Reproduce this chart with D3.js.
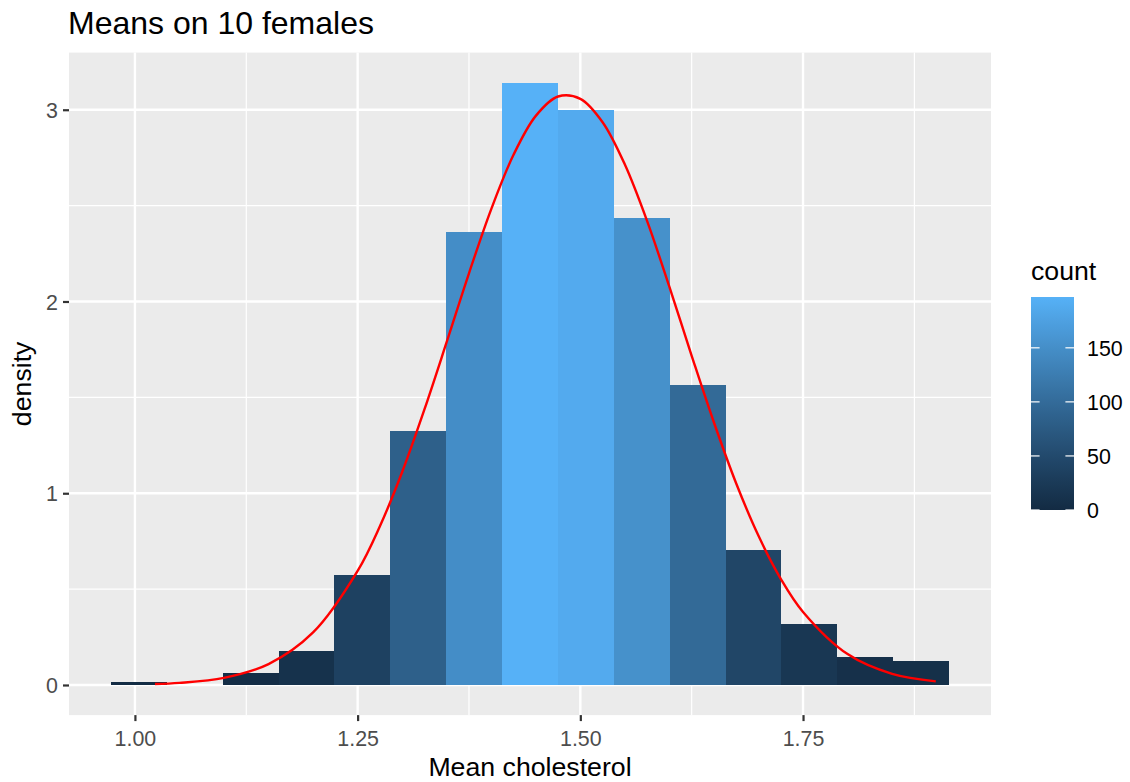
<!DOCTYPE html>
<html>
<head>
<meta charset="utf-8">
<script src="https://cdn.jsdelivr.net/npm/d3@7"></script>
<style>
  html, body { margin: 0; padding: 0; background: #ffffff; }
  svg { display: block; font-family: "Liberation Sans", Arial, Helvetica, sans-serif; }
</style>
</head>
<body>
<svg id="chart" width="1130" height="782"></svg>
<script>
// ---- data ----
const titleText = "Means on 10 females";
const xTitle = "Mean cholesterol";
const yTitle = "density";
const legendTitle = "count";

const binEdges = [0.9731, 1.0358, 1.0985, 1.1612, 1.2239, 1.2867, 1.3494, 1.4121,
                  1.4748, 1.5375, 1.6003, 1.6630, 1.7257, 1.7884, 1.8511, 1.9139];
const binCounts = [1, 0, 4, 11, 36, 83, 148, 197, 188, 153, 98, 44, 20, 9, 8];
const totalCount = 1000;

const curveX = [1.0225, 1.05, 1.10, 1.15, 1.20, 1.25, 1.275, 1.30, 1.325, 1.35, 1.375, 1.40, 1.425,
                1.45, 1.475, 1.50, 1.525, 1.55, 1.575, 1.60, 1.625, 1.65, 1.675, 1.70, 1.725,
                1.75, 1.80, 1.85, 1.899];
const curveY = [0.0053, 0.0110, 0.0373, 0.109, 0.274, 0.595, 0.828, 1.111, 1.437, 1.789, 2.147, 2.482, 2.765,
                2.968, 3.069, 3.057, 2.935, 2.714, 2.419, 2.076, 1.717, 1.369, 1.051, 0.778, 0.554,
                0.381, 0.161, 0.058, 0.019];

const xTicks = [1.00, 1.25, 1.50, 1.75];
const xMinor = [1.125, 1.375, 1.625, 1.875];
const yTicks = [0, 1, 2, 3];
const yMinor = [0.5, 1.5, 2.5];
const legendTicks = [0, 50, 100, 150];
const countLimits = [0, 197];

// ---- layout ----
const svg = d3.select("#chart");
const panel = { left: 69, right: 991, top: 52.6, bottom: 715.1 };

const x = d3.scaleLinear().domain([0.926, 1.961]).range([panel.left, panel.right]);
const y = d3.scaleLinear().domain([-0.157, 3.298]).range([panel.bottom, panel.top]);
const color = d3.scaleLinear().domain(countLimits).range(["#132B43", "#56B1F7"]).interpolate(d3.interpolateLab);

const tickFont = 21.4, titleFont = 26.7;

// panel background
svg.append("rect").attr("x", panel.left).attr("y", panel.top)
  .attr("width", panel.right - panel.left).attr("height", panel.bottom - panel.top)
  .attr("fill", "#EBEBEB");

const grid = svg.append("g");
grid.selectAll(".xminor").data(xMinor).enter().append("line")
  .attr("x1", d => x(d)).attr("x2", d => x(d)).attr("y1", panel.top).attr("y2", panel.bottom)
  .attr("stroke", "#ffffff").attr("stroke-width", 1.2);
grid.selectAll(".yminor").data(yMinor).enter().append("line")
  .attr("y1", d => y(d)).attr("y2", d => y(d)).attr("x1", panel.left).attr("x2", panel.right)
  .attr("stroke", "#ffffff").attr("stroke-width", 1.2);
grid.selectAll(".xmajor").data(xTicks).enter().append("line")
  .attr("x1", d => x(d)).attr("x2", d => x(d)).attr("y1", panel.top).attr("y2", panel.bottom)
  .attr("stroke", "#ffffff").attr("stroke-width", 2.4);
grid.selectAll(".ymajor").data(yTicks).enter().append("line")
  .attr("y1", d => y(d)).attr("y2", d => y(d)).attr("x1", panel.left).attr("x2", panel.right)
  .attr("stroke", "#ffffff").attr("stroke-width", 2.4);

// bars
const bins = binCounts.map((c, i) => ({
  x0: binEdges[i], x1: binEdges[i + 1], count: c,
  density: c / (totalCount * (binEdges[i + 1] - binEdges[i]))
}));
svg.append("g").selectAll("rect").data(bins).enter().append("rect")
  .attr("x", d => x(d.x0))
  .attr("width", d => x(d.x1) - x(d.x0))
  .attr("y", d => y(d.density))
  .attr("height", d => y(0) - y(d.density))
  .attr("fill", d => color(d.count))
  .attr("shape-rendering", "crispEdges");

// normal curve
const pts = curveX.map((v, i) => [v, curveY[i]]);
svg.append("path").datum(pts)
  .attr("d", d3.line().x(d => x(d[0])).y(d => y(d[1])).curve(d3.curveCatmullRom))
  .attr("fill", "none").attr("stroke", "#FF0000").attr("stroke-width", 2.4);

// axes
const xAxis = svg.append("g").attr("transform", `translate(0,${panel.bottom})`)
  .call(d3.axisBottom(x).tickValues(xTicks).tickFormat(d3.format(".2f")).tickSize(6).tickPadding(5));
const yAxis = svg.append("g").attr("transform", `translate(${panel.left},0)`)
  .call(d3.axisLeft(y).tickValues(yTicks).tickFormat(d3.format("d")).tickSize(6).tickPadding(5));
[xAxis, yAxis].forEach(a => {
  a.select(".domain").remove();
  a.selectAll(".tick line").attr("stroke", "#333333").attr("stroke-width", 2.2);
  a.selectAll(".tick text").attr("fill", "#4D4D4D").attr("font-size", tickFont)
    .attr("font-family", "Liberation Sans, Arial, sans-serif");
});
xAxis.selectAll(".tick text").attr("dy", null).attr("y", 0).attr("dominant-baseline", null)
  .attr("transform", "translate(0,30.5)");
yAxis.selectAll(".tick text").attr("dy", "0.36em");

// titles
svg.append("text").attr("x", 68).attr("y", 34).attr("font-size", 32).attr("fill", "#000")
  .text(titleText);
svg.append("text").attr("x", (panel.left + panel.right) / 2).attr("y", 776)
  .attr("text-anchor", "middle").attr("font-size", titleFont).attr("fill", "#000").text(xTitle);
svg.append("text").attr("transform", `translate(30.5,${(panel.top + panel.bottom) / 2}) rotate(-90)`)
  .attr("text-anchor", "middle").attr("font-size", titleFont).attr("fill", "#000").text(yTitle);

// legend
const lg = { x: 1031, y0: 297, y1: 510, w: 43 };
svg.append("text").attr("x", 1031).attr("y", 280).attr("font-size", titleFont).attr("fill", "#000")
  .text(legendTitle);
const defs = svg.append("defs");
const grad = defs.append("linearGradient").attr("id", "cbar")
  .attr("x1", 0).attr("y1", 1).attr("x2", 0).attr("y2", 0);
d3.range(0, 21).forEach(i => {
  const t = i / 20;
  grad.append("stop").attr("offset", t)
    .attr("stop-color", color(countLimits[0] + t * (countLimits[1] - countLimits[0])));
});
svg.append("rect").attr("x", lg.x).attr("y", lg.y0).attr("width", lg.w).attr("height", lg.y1 - lg.y0)
  .attr("fill", "url(#cbar)");
const ly = d3.scaleLinear().domain(countLimits).range([lg.y1, lg.y0]);
const lt = svg.append("g");
legendTicks.forEach(v => {
  lt.append("line").attr("x1", lg.x).attr("x2", lg.x + lg.w / 5).attr("y1", ly(v)).attr("y2", ly(v))
    .attr("stroke", "#ffffff").attr("stroke-width", 1.2);
  lt.append("line").attr("x1", lg.x + lg.w - lg.w / 5).attr("x2", lg.x + lg.w).attr("y1", ly(v)).attr("y2", ly(v))
    .attr("stroke", "#ffffff").attr("stroke-width", 1.2);
  lt.append("text").attr("x", 1087).attr("y", ly(v)).attr("dy", "0.36em")
    .attr("font-size", tickFont).attr("fill", "#000").text(v);
});
</script>
</body>
</html>
